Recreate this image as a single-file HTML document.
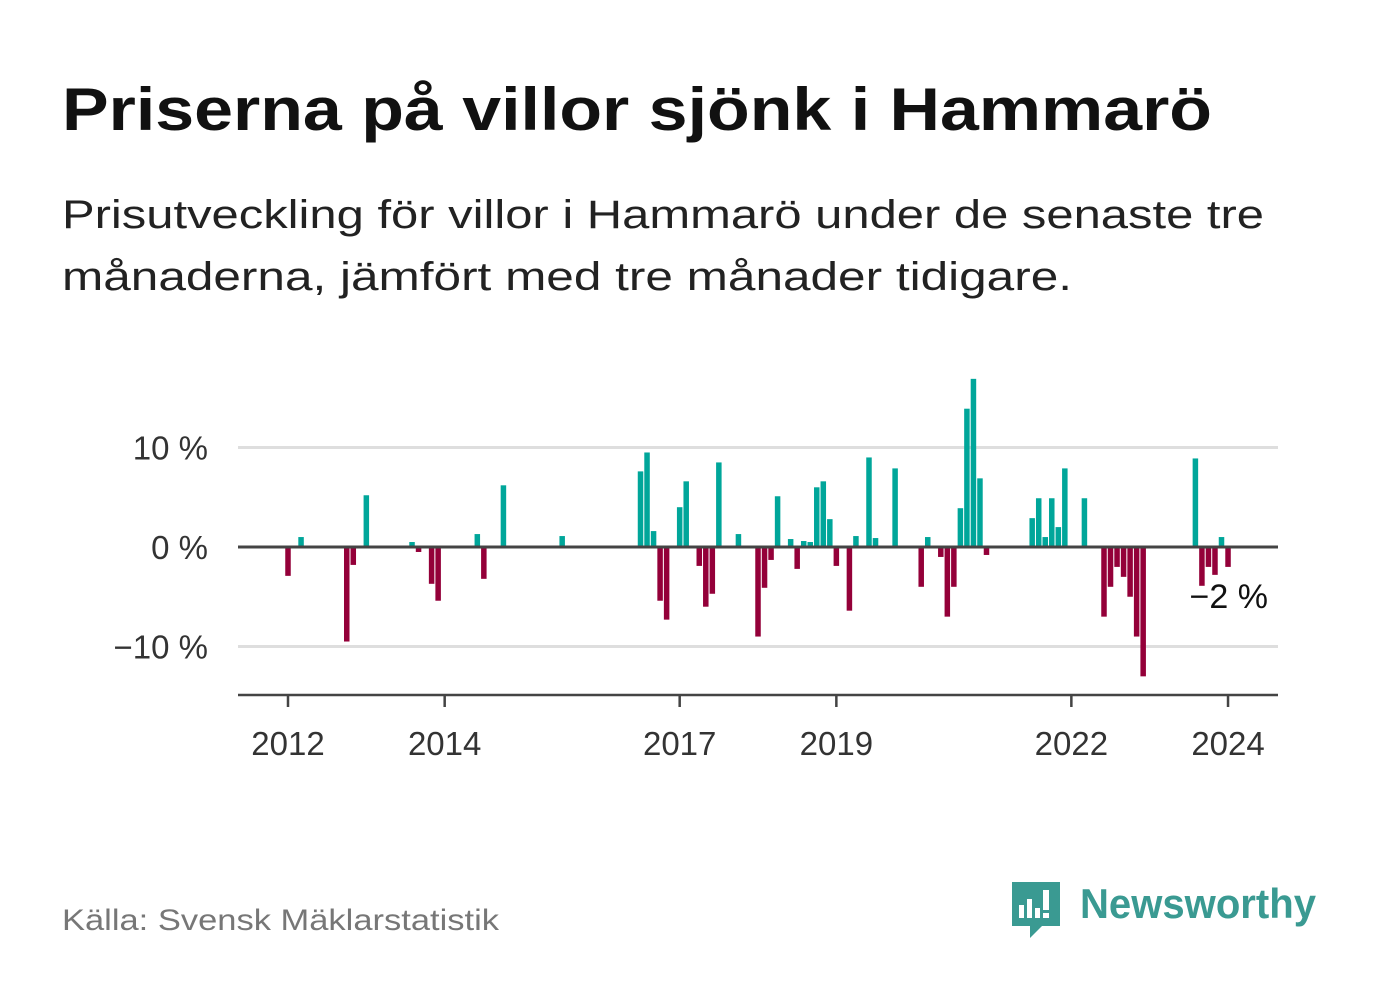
<!DOCTYPE html>
<html><head><meta charset="utf-8"><style>
html,body{margin:0;padding:0;background:#fff;}
svg{display:block;font-family:"Liberation Sans",sans-serif;}
</style></head><body>
<svg id="chart" width="1382" height="999" viewBox="0 0 1382 999" xmlns="http://www.w3.org/2000/svg">
<rect width="1382" height="999" fill="#fff"/>
<text x="62" y="130" font-size="60" font-weight="bold" fill="#111" textLength="1150" lengthAdjust="spacingAndGlyphs">Priserna på villor sjönk i Hammarö</text>
<text x="62" y="228" font-size="40" fill="#222" textLength="1202" lengthAdjust="spacingAndGlyphs">Prisutveckling för villor i Hammarö under de senaste tre</text>
<text x="62" y="290" font-size="40" fill="#222" textLength="1010" lengthAdjust="spacingAndGlyphs">månaderna, jämfört med tre månader tidigare.</text>
<g id="grid"></g>
<g id="bars"></g>
<g id="axes"></g>
<text x="1268" y="608" font-size="34" fill="#111" text-anchor="end" stroke="#fff" stroke-width="6" paint-order="stroke">−2 %</text>
<text x="62" y="930" font-size="30" fill="#777" textLength="437" lengthAdjust="spacingAndGlyphs">Källa: Svensk Mäklarstatistik</text>
<g>
<path d="M1012 882 h48 v44 h-18 l-12 12 v-12 h-18 z" fill="#3a9a92"/>
<rect x="1019" y="905" width="5" height="13" fill="#fff"/>
<rect x="1027" y="899" width="5" height="19" fill="#fff"/>
<rect x="1035" y="908" width="5" height="10" fill="#fff"/>
<rect x="1043" y="890" width="6" height="20" fill="#fff"/>
<rect x="1043" y="913" width="6" height="5" fill="#fff"/>
<text x="1080" y="918" font-size="42" font-weight="bold" fill="#3a9a92" textLength="236" lengthAdjust="spacingAndGlyphs">Newsworthy</text>
</g>
</svg>
<script>
const months = [0,2,9,10,12,19,20,22,23,29,30,33,42,54,55,56,57,58,60,61,63,64,65,66,69,72,73,74,75,77,78,79,80,81,82,83,84,86,87,89,90,93,97,98,100,101,102,103,104,105,106,107,114,115,116,117,118,119,122,125,126,127,128,129,130,131,139,140,141,142,143,144];
const values = [-2.9,1.0,-9.5,-1.8,5.2,0.5,-0.5,-3.7,-5.4,1.3,-3.2,6.2,1.1,7.6,9.5,1.6,-5.4,-7.3,4.0,6.6,-1.9,-6.0,-4.7,8.5,1.3,-9.0,-4.1,-1.3,5.1,0.8,-2.2,0.6,0.5,6.0,6.6,2.8,-1.9,-6.4,1.1,9.0,0.9,7.9,-4.0,1.0,-1.0,-7.0,-4.0,3.9,13.9,16.9,6.9,-0.8,2.9,4.9,1.0,4.9,2.0,7.9,4.9,-7.0,-4.0,-2.0,-3.0,-5.0,-9.0,-13.0,8.9,-3.9,-2.0,-2.8,1.0,-2.0];
const yTicks = [10,0,-10];
const yTickLabels = ["10 %","0 %","−10 %"];
const xTickYears = [2012,2014,2017,2019,2022,2024];

const NS="http://www.w3.org/2000/svg";
const x0=288, monthW=6.528, yZero=547, pxPer=9.95, left=238, right=1278;
const xScale = m => x0 + m*monthW;
const yScale = v => yZero - v*pxPer;
function mk(tag, attrs, parent){const e=document.createElementNS(NS,tag);for(const k in attrs)e.setAttribute(k,attrs[k]);parent.appendChild(e);return e;}
const grid=document.getElementById('grid'), bars=document.getElementById('bars'), axes=document.getElementById('axes');
yTicks.forEach((t,i)=>{
  if(t!==0){
    const l=mk('line',{x1:left,x2:right,y1:yScale(t),y2:yScale(t),stroke:'#dedede','stroke-width':3},grid);
    
    
  }
  const tx=mk('text',{x:208,y:yScale(t)+12,'font-size':33,fill:'#333','text-anchor':'end'},axes);
  tx.textContent=yTickLabels[i];
  
  
});
months.forEach((m,i)=>{
  const v=values[i], y=yScale(Math.max(v,0)), h=Math.abs(v)*pxPer;
  const r=mk('rect',{x:xScale(m)-2.75,y:y,width:5.5,height:h,fill:v>=0?'#00a69a':'#940039'},bars);
  
  
});
const z=mk('line',{x1:left,x2:right,y1:yZero,y2:yZero,stroke:'#444','stroke-width':3},axes);


const xa=mk('line',{x1:left,x2:right,y1:695,y2:695,stroke:'#444','stroke-width':2.5},axes);


xTickYears.forEach(yr=>{
  const x=xScale((yr-2012)*12);
  const tk=mk('line',{x1:x,x2:x,y1:695,y2:707,stroke:'#444','stroke-width':2.5},axes);
  
  
  const t=mk('text',{x:x,y:755,'font-size':33,fill:'#333','text-anchor':'middle'},axes);
  t.textContent=yr;
  
  
});
</script>
</body></html>
